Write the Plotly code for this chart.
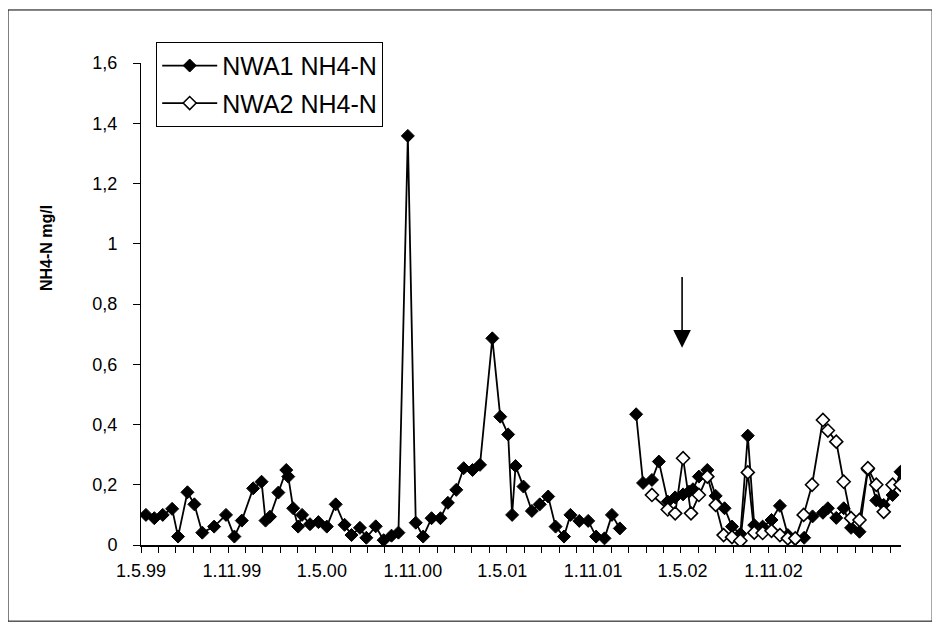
import plotly.graph_objects as go

# sampling dates and NH4-N values (mg/l)
nwa1_dates = [
    '1999-05-11', '1999-05-28', '1999-06-14', '1999-07-03', '1999-07-15',
    '1999-08-03', '1999-08-17', '1999-09-02', '1999-09-26', '1999-10-20',
    '1999-11-06', '1999-11-21', '1999-12-14', '1999-12-31', '2000-01-08',
    '2000-01-17', '2000-02-03', '2000-02-19', '2000-02-23', '2000-03-04',
    '2000-03-14', '2000-03-22', '2000-04-07', '2000-04-24', '2000-05-11',
    '2000-05-29', '2000-06-16', '2000-06-30', '2000-07-17', '2000-07-30',
    '2000-08-18', '2000-09-03', '2000-09-19', '2000-10-03', '2000-10-22',
    '2000-11-07', '2000-11-22', '2000-12-09', '2000-12-27', '2001-01-11',
    '2001-01-28', '2001-02-12', '2001-03-02', '2001-03-17', '2001-04-11',
    '2001-04-27', '2001-05-13', '2001-05-21', '2001-05-28', '2001-06-13',
    '2001-06-30', '2001-07-16', '2001-08-02', '2001-08-17', '2001-09-03',
    '2001-09-16', '2001-10-04', '2001-10-22', '2001-11-07', '2001-11-24',
    '2001-12-09', '2001-12-25', '2002-01-10',
    '2002-01-27', '2002-02-10', '2002-02-28', '2002-03-14', '2002-04-01',
    '2002-04-16', '2002-05-02', '2002-05-14', '2002-05-22', '2002-06-03',
    '2002-06-20', '2002-07-07', '2002-07-25', '2002-08-09', '2002-08-26',
    '2002-09-10', '2002-09-23', '2002-10-10', '2002-10-28', '2002-11-14',
    '2002-11-30', '2002-12-15', '2003-01-02', '2003-01-19', '2003-02-09',
    '2003-02-19', '2003-03-08', '2003-03-23', '2003-04-07', '2003-04-24',
    '2003-05-11', '2003-05-28', '2003-06-12', '2003-06-30', '2003-07-16',
]
nwa1_values = [
    0.10, 0.089, 0.10, 0.12, 0.028,
    0.175, 0.135, 0.041, 0.061, 0.10,
    0.028, 0.081, 0.188, 0.21, 0.081,
    0.094, 0.174, 0.249, 0.227, 0.122,
    0.061, 0.10, 0.069, 0.076, 0.061,
    0.135, 0.067, 0.033, 0.057, 0.024,
    0.062, 0.016, 0.031, 0.041, 1.358,
    0.074, 0.028, 0.089, 0.089, 0.14,
    0.183, 0.255, 0.249, 0.266, 0.686,
    0.426, 0.367, 0.10, 0.262, 0.194,
    0.113, 0.135, 0.161, 0.061, 0.028,
    0.10, 0.080, 0.080, 0.028, 0.022,
    0.10, 0.055, None,
    0.434, 0.206, 0.216, 0.277, 0.144,
    0.158, 0.168, 0.177, 0.185, 0.227,
    0.249, 0.163, 0.122, 0.061, 0.037,
    0.363, 0.066, 0.061, 0.083, 0.13,
    0.033, 0.019, 0.024, 0.095, 0.107,
    0.122, 0.090, 0.122, 0.057, 0.044,
    0.25, 0.148, 0.133, 0.166, 0.243,
]

nwa2_dates = [
    '2002-02-28', '2002-04-01', '2002-04-16', '2002-05-02', '2002-05-18',
    '2002-06-03', '2002-06-20', '2002-07-07', '2002-07-23', '2002-08-09',
    '2002-08-26', '2002-09-10', '2002-09-23', '2002-10-10', '2002-10-28',
    '2002-11-14', '2002-11-30', '2002-12-15', '2003-01-01', '2003-01-18',
    '2003-02-09', '2003-02-19', '2003-03-08', '2003-03-23', '2003-04-07',
    '2003-04-24', '2003-05-11', '2003-05-28', '2003-06-12', '2003-06-30',
    '2003-07-16',
]
nwa2_values = [
    0.166, 0.118, 0.105, 0.288, 0.105,
    0.166, 0.227, 0.133, 0.033, 0.026,
    0.014, 0.241, 0.041, 0.040, 0.047,
    0.033, 0.022, 0.022, 0.10, 0.20,
    0.415, 0.38, 0.343, 0.21, 0.089,
    0.083, 0.255, 0.20, 0.11, 0.20,
    0.20,
]

x_tick_dates = ['1999-05-01', '1999-11-01', '2000-05-01', '2000-11-01',
                '2001-05-01', '2001-11-01', '2002-05-01', '2002-11-01']
x_tick_labels = ['1.5.99', '1.11.99', '1.5.00', '1.11.00',
                 '1.5.01', '1.11.01', '1.5.02', '1.11.02']
y_tick_vals = [0, 0.2, 0.4, 0.6, 0.8, 1.0, 1.2, 1.4, 1.6]
y_tick_labels = ['0', '0,2', '0,4', '0,6', '0,8', '1', '1,2', '1,4', '1,6']

# event marked with the arrow
arrow_date = '2002-04-30'
arrow_tip, arrow_tail = 0.655, 0.895

x_range = ['1999-05-01', '2003-07-17']
day_ms = 86400000
font = 'Liberation Sans, Arial, sans-serif'

fig = go.Figure()
fig.add_trace(go.Scatter(
    x=nwa1_dates, y=nwa1_values,
    mode='lines+markers', name='NWA1 NH4-N', legendgroup='a',
    connectgaps=False,
    line=dict(color='black', width=1.8),
    marker=dict(symbol='diamond', size=10, color='black',
                line=dict(color='black', width=1))
))
fig.add_trace(go.Scatter(
    x=nwa2_dates, y=nwa2_values,
    mode='lines+markers', name='NWA2 NH4-N', legendgroup='b',
    line=dict(color='black', width=1.8),
    marker=dict(symbol='diamond', size=10, color='white',
                line=dict(color='black', width=1.6))
))

fig.add_annotation(
    x=arrow_date, y=arrow_tip, ax=arrow_date, ay=arrow_tail,
    xref='x', yref='y', axref='x', ayref='y',
    text='', showarrow=True, arrowhead=2, arrowsize=2.2,
    arrowwidth=1.6, arrowcolor='black'
)
fig.add_annotation(
    text='<b>NH4-N mg/l</b>', textangle=-90,
    xref='paper', yref='paper', x=-0.125, y=0.616,
    xanchor='center', yanchor='middle',
    showarrow=False, font=dict(size=16, color='black', family=font)
)
fig.add_shape(
    type='rect', xref='paper', yref='paper',
    x0=-0.175, x1=1.041, y0=-0.158, y1=1.110,
    line=dict(color='black', width=1)
)

# the page body adds an 8 px offset, so the figure is 8 px smaller
fig.update_layout(
    width=932, height=622,
    margin=dict(l=133, r=39, t=55, b=85),
    paper_bgcolor='white', plot_bgcolor='white',
    font=dict(family=font, size=18, color='black'),
    showlegend=True,
    legend=dict(
        x=0.02, y=1.044, xanchor='left', yanchor='top',
        bordercolor='black', borderwidth=1, bgcolor='white',
        font=dict(size=25), traceorder='grouped', tracegroupgap=2,
        itemwidth=55
    ),
    xaxis=dict(
        type='date', range=x_range,
        tickvals=x_tick_dates, ticktext=x_tick_labels,
        ticks='', showgrid=False, zeroline=False,
        showline=True, linecolor='black', linewidth=1.5,
        ticklabelstandoff=9,
        minor=dict(ticks='outside', ticklen=6, tickcolor='black',
                   dtick=35.25 * day_ms, tick0='1999-05-01', showgrid=False)
    ),
    xaxis2=dict(
        type='date', range=x_range, overlaying='x', anchor='y', side='bottom',
        tick0='1999-05-01', dtick=6 * 35.25 * day_ms,
        ticks='outside', ticklen=9, tickcolor='black',
        showticklabels=False, showgrid=False, showline=False, zeroline=False
    ),
    yaxis=dict(
        range=[0, 1.6], tickvals=y_tick_vals, ticktext=y_tick_labels,
        ticks='outside', ticklen=7, tickcolor='black',
        showgrid=False, zeroline=False,
        showline=True, linecolor='black', linewidth=1,
        ticklabelstandoff=12
    )
)

fig.write_html('out.html')
